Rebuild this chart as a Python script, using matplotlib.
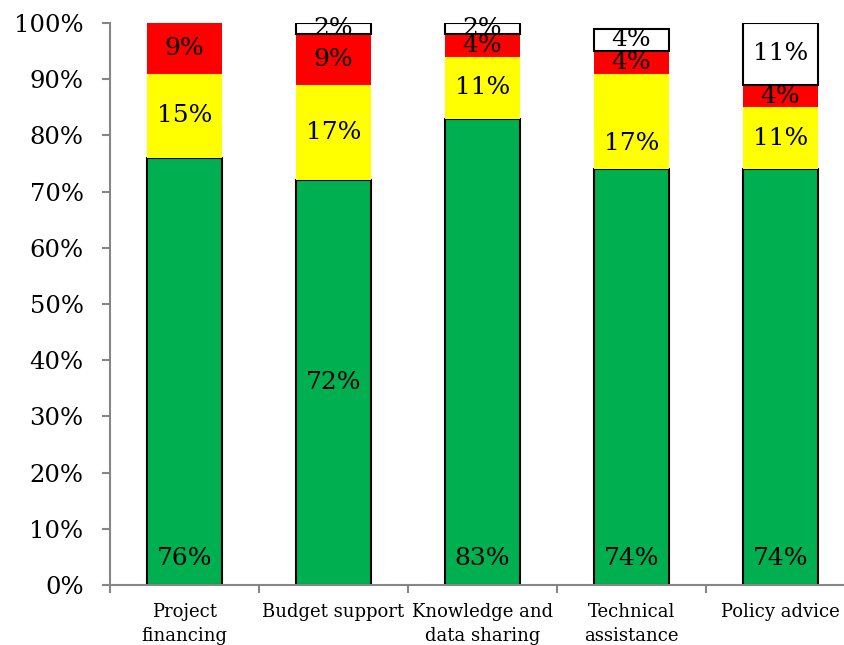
import numpy as np
import matplotlib
matplotlib.use("Agg")
import matplotlib.pyplot as plt

# data
categories = ["Project\nfinancing", "Budget support", "Knowledge and\ndata sharing",
              "Technical\nassistance", "Policy advice"]
green = [76, 72, 83, 74, 74]
yellow = [15, 17, 11, 17, 11]
red = [9, 9, 4, 4, 4]
white = [0, 2, 2, 4, 11]

plt.rcParams['font.family'] = ['DejaVu Serif']

fig = plt.figure(figsize=(8.44, 6.45), dpi=100)
ax = fig.add_axes([110 / 844, 60 / 645, 745 / 844, 562 / 645])

x = np.arange(len(categories))
w = 0.5
bottoms = np.zeros(len(categories))
series = [
    (green, "#00b050", "black"),
    (yellow, "#ffff00", "none"),
    (red, "#ff0000", "none"),
    (white, "#ffffff", "black"),
]

label_size = 18
for si, (vals, col, ec) in enumerate(series):
    vals = np.array(vals, dtype=float)
    for i in range(len(x)):
        if vals[i] == 0:
            continue
        ax.bar(x[i], vals[i], w, bottom=bottoms[i], color=col,
               edgecolor=ec, linewidth=1.5 if ec != "none" else 0, zorder=2)
        # label placement: green labels sit at the bar base except budget support
        if si == 0 and i != 1:
            ypos = bottoms[i] + 4.8
        elif si == 1 and i == 3:
            ypos = bottoms[i] + vals[i] * 0.27
        else:
            ypos = bottoms[i] + vals[i] / 2
        ax.text(x[i], ypos, f"{int(vals[i])}%", ha="center", va="center",
                fontsize=label_size, zorder=3)
    bottoms += vals

ax.set_xlim(-0.5, len(categories) - 0.5)
ax.set_ylim(0, 100)
ax.set_yticks(np.arange(0, 101, 10))
ax.set_yticklabels([f"{v}%" for v in range(0, 101, 10)], fontsize=17.5)

ax.set_xticks(np.arange(-0.5, len(categories), 1))
ax.set_xticklabels([])
ax.set_xticks(x, minor=True)
ax.set_xticklabels(categories, minor=True, fontsize=13, linespacing=1.45, va="top")
ax.tick_params(axis="x", which="minor", length=0, pad=13)
ax.tick_params(axis="x", which="major", length=6, width=1.5, color="#868686", direction="out")
ax.tick_params(axis="y", length=6, width=1.5, color="#868686", direction="out", pad=13)

for s in ["top", "right"]:
    ax.spines[s].set_visible(False)
for s in ["left", "bottom"]:
    ax.spines[s].set_color("#868686")
    ax.spines[s].set_linewidth(1.5)

fig.savefig("out.png", dpi=100)
